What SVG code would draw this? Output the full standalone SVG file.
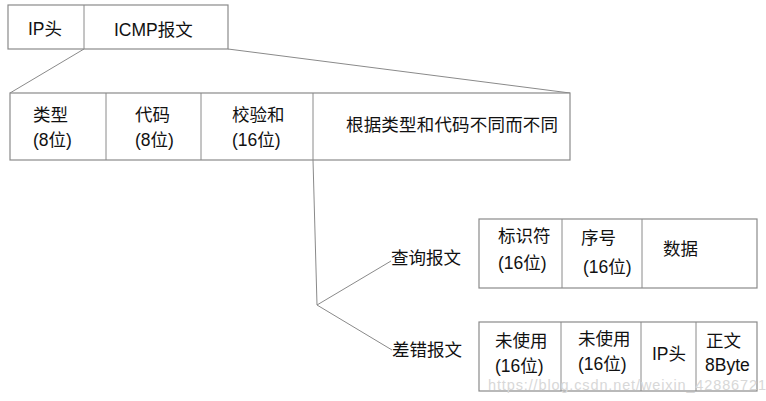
<svg xmlns="http://www.w3.org/2000/svg" width="766" height="401" viewBox="0 0 766 401">
<style>
.box{fill:#fff;stroke:#8a8a8a;stroke-width:1.2}
.ln{fill:none;stroke:#8a8a8a;stroke-width:1}
text{font-family:"Liberation Sans","Noto Sans CJK SC",sans-serif;font-size:17.5px;fill:#111}
.wm{font-family:"Liberation Sans",sans-serif;font-size:14.5px;fill:#d8d8d8}
</style>
<rect width="766" height="401" fill="#fff"/>
<g id="connectors">
<line class="ln" x1="84" y1="49" x2="10" y2="93"/>
<line class="ln" x1="228" y1="49" x2="570" y2="93"/>
<polyline class="ln" points="313,160 317,305 391,261"/>
<line class="ln" x1="317" y1="305" x2="392" y2="350"/>
</g>
<g id="top">
<rect class="box" x="8" y="5" width="220" height="44"/>
<line class="ln" x1="84" y1="5" x2="84" y2="49"/>
<text x="28" y="35">IP头</text>
<text x="114" y="36">ICMP报文</text>
</g>
<g id="icmp">
<rect class="box" x="10" y="93" width="560" height="67"/>
<line class="ln" x1="106" y1="93" x2="106" y2="160"/>
<line class="ln" x1="201" y1="93" x2="201" y2="160"/>
<line class="ln" x1="313" y1="93" x2="313" y2="160"/>
<text x="33" y="121">类型</text>
<text x="33" y="146">(8位)</text>
<text x="135" y="121">代码</text>
<text x="135" y="146">(8位)</text>
<text x="232" y="121">校验和</text>
<text x="232" y="146">(16位)</text>
<text x="346" y="131" textLength="212">根据类型和代码不同而不同</text>
</g>
<g id="query">
<text x="391" y="264">查询报文</text>
<rect class="box" x="479" y="219" width="278" height="69"/>
<line class="ln" x1="562" y1="219" x2="562" y2="288"/>
<line class="ln" x1="642" y1="219" x2="642" y2="288"/>
<text x="498" y="242">标识符</text>
<text x="498" y="269">(16位)</text>
<text x="581" y="244">序号</text>
<text x="583" y="273">(16位)</text>
<text x="663" y="255">数据</text>
</g>
<g id="error">
<text x="392" y="356">差错报文</text>
<rect class="box" x="479" y="322" width="278" height="69"/>
<line class="ln" x1="561" y1="322" x2="561" y2="391"/>
<line class="ln" x1="641" y1="322" x2="641" y2="391"/>
<line class="ln" x1="696" y1="322" x2="696" y2="391"/>
<text x="495" y="347">未使用</text>
<text x="495" y="372">(16位)</text>
<text x="578" y="345">未使用</text>
<text x="578" y="370">(16位)</text>
<text x="652" y="360">IP头</text>
<text x="706" y="347">正文</text>
<text x="705" y="371">8Byte</text>
</g>
<text class="wm" x="488" y="390" textLength="278">https://blog.csdn.net/weixin_42886721</text>
</svg>
